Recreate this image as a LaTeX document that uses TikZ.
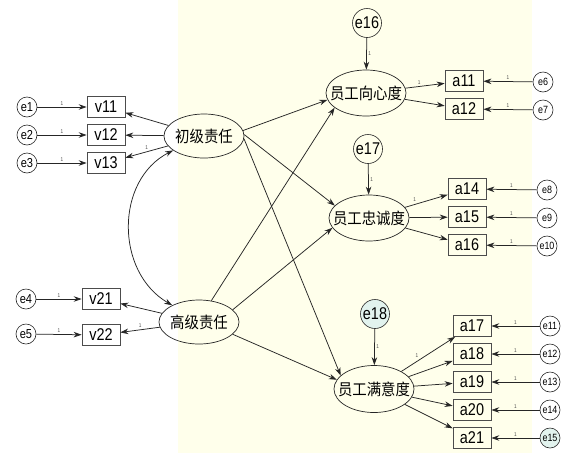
\documentclass[tikz,border=0pt]{standalone}
\usepackage{fontspec}
\newfontfamily\lab{Liberation Sans}[FakeStretch=0.85]
\newfontfamily\cjk{Noto Sans CJK SC}[FakeStretch=0.9]
\usetikzlibrary{shapes.geometric,arrows.meta}
\definecolor{bgy}{RGB}{255,255,235}
\definecolor{ecyan}{RGB}{226,243,238}
\begin{document}
\begin{tikzpicture}[x=1pt,y=-1pt,
 obs/.style={draw=black!70, line width=0.7pt, minimum width=38pt, minimum height=21pt, inner sep=0pt, font=\lab\fontsize{17}{17}\selectfont},
 err/.style={circle, draw=black!85, line width=0.6pt, minimum size=20pt, inner sep=0pt, font=\lab\fontsize{13}{13}\selectfont},
 errs/.style={err, font=\lab\fontsize{10.5}{10.5}\selectfont},
 errb/.style={err, minimum size=29pt, font=\lab\fontsize{17}{17}\selectfont},
 lat/.style={ellipse, draw=black!85, line width=0.7pt, minimum width=80pt, minimum height=44pt, inner sep=0pt, font=\cjk\fontsize{16}{16}\selectfont},
 arr/.style={draw=black!85, line width=0.75pt, -{Stealth[length=8pt,width=5.5pt]}},
 arrb/.style={draw=black!85, line width=0.75pt, {Stealth[length=8pt,width=5.5pt]}-{Stealth[length=8pt,width=5.5pt]}},
 one/.style={font=\lab\fontsize{5.5}{5.5}\selectfont, text=black!70, inner sep=1.5pt},
]
\useasboundingbox (0,0) rectangle (577,453);
\fill[white] (0,0) rectangle (577,453);
\fill[bgy] (178,0) rectangle (532,453);

% latent variables
\node[lat] (f1) at (204,136) {\makebox[0pt]{初级责任}};
\node[lat] (f2) at (199,322) {\makebox[0pt]{高级责任}};
\node[lat, minimum height=46pt] (g1) at (366,93) {\makebox[0pt]{员工向心度}};
\node[lat, minimum height=46pt] (g2) at (369,218) {\makebox[0pt]{员工忠诚度}};
\node[lat, minimum height=47pt] (g3) at (374,389) {\makebox[0pt]{员工满意度}};

% left indicators
\node[obs] (v11) at (106,107) {v11};
\node[obs] (v12) at (106,135) {v12};
\node[obs] (v13) at (106,163) {v13};
\node[obs] (v21) at (101,299) {v21};
\node[obs] (v22) at (101,335) {v22};
\node[err] (e1) at (27,107) {e1};
\node[err] (e2) at (27,135) {e2};
\node[err] (e3) at (27,163) {e3};
\node[err] (e4) at (26,299) {e4};
\node[err] (e5) at (26,334) {e5};

% right indicators
\node[obs] (a11) at (464,81) {a11};
\node[obs] (a12) at (464,109) {a12};
\node[obs] (a14) at (467,189) {a14};
\node[obs] (a15) at (467,217) {a15};
\node[obs] (a16) at (467,245) {a16};
\node[obs] (a17) at (472,326) {a17};
\node[obs] (a18) at (472,354) {a18};
\node[obs] (a19) at (472,382) {a19};
\node[obs] (a20) at (472,410) {a20};
\node[obs] (a21) at (472,438) {a21};
\node[errs] (e6) at (543,82) {e6};
\node[errs] (e7) at (543,110) {e7};
\node[errs] (e8) at (547,190) {e8};
\node[errs] (e9) at (547,218) {e9};
\node[errs] (e10) at (547,246) {e10};
\node[errs] (e11) at (550,326) {e11};
\node[errs] (e12) at (550,354) {e12};
\node[errs] (e13) at (550,382) {e13};
\node[errs] (e14) at (550,410) {e14};
\node[errs, fill=ecyan] (e15) at (550,438) {e15};
\node[errb] (e16) at (367,23) {e16};
\node[errb] (e17) at (368,149) {e17};
\node[errb, fill=ecyan] (e18) at (375,314) {e18};

% error arrows left
\foreach \e/\v in {e1/v11,e2/v12,e3/v13,e4/v21,e5/v22}
  \draw[arr] (\e) -- node[one,above]{1} (\v);
% error arrows right
\foreach \e/\v in {e6/a11,e7/a12,e8/a14,e9/a15,e10/a16,e11/a17,e12/a18,e13/a19,e14/a20,e15/a21}
  \draw[arr] (\e) -- node[one,above]{1} (\v);
% disturbances
\foreach \e/\g in {e16/g1,e17/g2,e18/g3}
  \draw[arr] (\e) -- node[one,right]{1} (\g);

% loadings left
\draw[arr] (f1) -- (v11);
\draw[arr] (f1) -- (v12);
\draw[arr] (f1) -- node[one,above]{1} (v13);
\draw[arr] (f2) -- (v21);
\draw[arr] (f2) -- node[one,above]{1} (v22);

% loadings right
\draw[arr] (g1) -- node[one,above,pos=0.35]{1} (a11);
\draw[arr] (g1) -- (a12);
\draw[arr] (g2) -- node[one,above left,pos=0.3]{1} (a14);
\draw[arr] (g2) -- (a15);
\draw[arr] (g2) -- (a16);
\draw[arr] (g3) -- node[one,above left,pos=0.35]{1} (a17);
\draw[arr] (g3) -- (a18);
\draw[arr] (g3) -- (a19);
\draw[arr] (g3) -- (a20);
\draw[arr] (g3) -- (a21);

% structural paths
\draw[arr] (f1.8) -- (g1.190);
\draw[arr] (f1.2) -- (g2.160);
\draw[arr] (f1.-4) -- (g3.158);
\draw[arr] (f2.60) -- (g1.205);
\draw[arr] (f2.20) -- (g2.195);
\draw[arr] (f2.-20) -- (g3.166);

% covariance
\draw[arrb] (f1.205) .. controls (115,180) and (115,272) .. (f2.148);
\end{tikzpicture}
\end{document}
